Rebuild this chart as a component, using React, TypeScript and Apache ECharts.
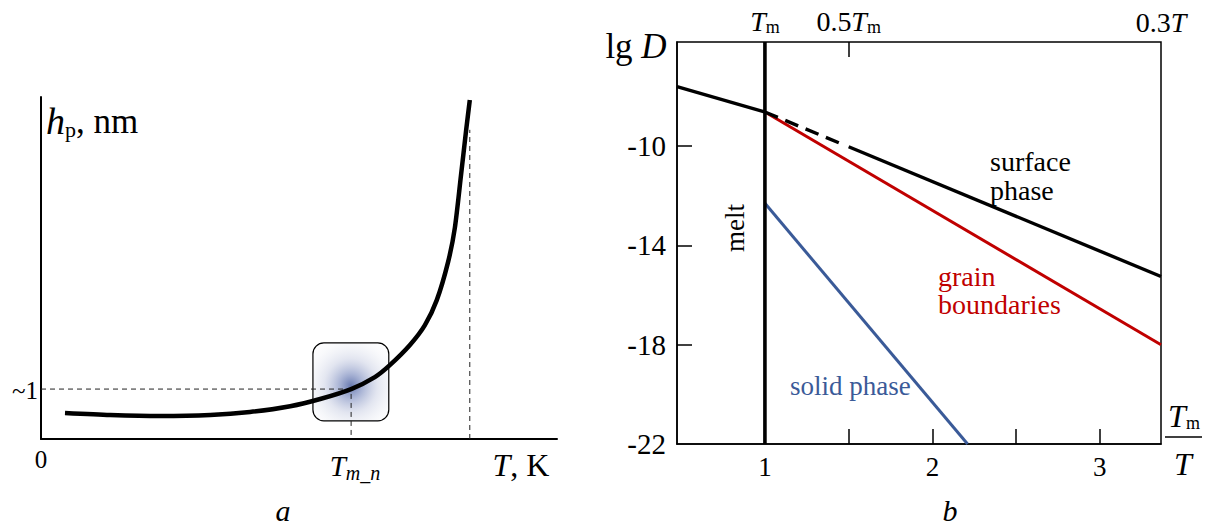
import React, { useEffect, useRef } from "react";
import * as echarts from "echarts";

// ---- Panel a: h_p vs T (arbitrary units, 0..100) ----
const leftT = [4.65, 13.4, 23.1, 32.8, 40.5, 48.3, 54.1, 60.1, 64.7, 67.6, 71.5, 74.4, 76.7, 78.9, 80.2, 81.4, 82.4, 83.1];
const leftH = [7.6, 7.0, 6.7, 7.0, 7.9, 9.6, 11.7, 14.6, 18.1, 21.6, 27.5, 33.3, 40.6, 51.8, 61.7, 77.2, 90.4, 99.1];
const tmnX = 60.1;
const tmnH = 14.6;
const tLimX = 83.1;
const tLimH = 90.4;
const boxArea = [52.7, 5.3, 67.4, 28.1]; // x0, y0, x1, y1

// ---- Panel b: lg D vs Tm/T ----
const xTicksB = [1.5, 2, 2.5, 3];
const xLabelsB = [1, 2, 3];
const yTicksB = [-10, -14, -18];
const yLabelsB = [-10, -14, -18, -22];
const topLabelValues = [1, 1.5, 3.365];
const liquidX = [0.475, 1];
const liquidY = [-7.6, -8.62];
const surfDashX = [1, 1.47];
const surfDashY = [-8.62, -9.94];
const surfX = [1.5, 3.365];
const surfY = [-10.02, -15.25];
const grainX = [1, 3.365];
const grainY = [-8.62, -18.0];
const solidX = [1, 2.21];
const solidY = [-12.3, -22];
const meltX = [1, 1];
const meltY = [-22, -5.8];

const zip = (a: number[], b: number[]) => a.map((v, i) => [v, b[i]]);
const FONT = "Liberation Serif";
const RED = "#c00000";
const BLUE = "#3a5a98";

const sub = { fontFamily: FONT, fontSize: 18, color: "#000", padding: [12, 0, 0, 0] };
const ital = { fontFamily: FONT, fontSize: 28, fontStyle: "italic", color: "#000" };
const norm = { fontFamily: FONT, fontSize: 28, color: "#000" };

export default function App() {
  const ref = useRef<HTMLDivElement>(null);
  useEffect(() => {
    const chart = echarts.init(ref.current!, null, { renderer: "svg" });
    const lineSeries = (data: number[][], color: string, width: number, extra: any = {}) => ({
      type: "line",
      xAxisIndex: 1,
      yAxisIndex: 1,
      data,
      symbol: "none",
      silent: true,
      lineStyle: { color, width, cap: "butt", ...extra },
    });
    const option: any = {
      animation: false,
      backgroundColor: "#fff",
      grid: [
        { left: 41, top: 97, width: 516, height: 342, show: false },
        { left: 677, top: 42, width: 484, height: 402, show: true, borderColor: "#000", borderWidth: 1.5, backgroundColor: "transparent" },
      ],
      xAxis: [
        {
          gridIndex: 0, type: "value", min: 0, max: 100,
          axisLine: { show: true, onZero: false, lineStyle: { color: "#000", width: 2 } },
          axisTick: { show: false }, axisLabel: { show: false }, splitLine: { show: false },
        },
        {
          gridIndex: 1, type: "value", min: 0.475, max: 3.365, position: "bottom",
          axisLine: { show: true, onZero: false, lineStyle: { color: "#000", width: 1.5 } },
          axisTick: { show: true, inside: true, length: 15, customValues: xTicksB, lineStyle: { color: "#000", width: 1.5 } },
          axisLabel: { show: true, customValues: xLabelsB, fontFamily: FONT, fontSize: 27, color: "#000", margin: 9 },
          splitLine: { show: false },
        },
        {
          gridIndex: 1, type: "value", min: 0.475, max: 3.365, position: "top",
          axisLine: { show: false },
          axisTick: { show: true, inside: true, length: 15, customValues: [1.5], lineStyle: { color: "#000", width: 1.5 } },
          axisLabel: {
            show: true, customValues: topLabelValues, margin: 6,
            formatter: (v: number) => (v === 1 ? "{i|T}{s|m}" : v === 1.5 ? "{n|0.5}{i|T}{s|m}" : "{n|0.3}{i|T}"),
            rich: { i: ital, s: sub, n: norm },
          },
          splitLine: { show: false },
        },
      ],
      yAxis: [
        {
          gridIndex: 0, type: "value", min: 0, max: 100,
          axisLine: { show: true, onZero: false, lineStyle: { color: "#000", width: 2 } },
          axisTick: { show: false }, axisLabel: { show: false }, splitLine: { show: false },
        },
        {
          gridIndex: 1, type: "value", min: -22, max: -5.8,
          axisLine: { show: true, onZero: false, lineStyle: { color: "#000", width: 1.5 } },
          axisTick: { show: true, inside: true, length: 15, customValues: yTicksB, lineStyle: { color: "#000", width: 1.5 } },
          axisLabel: { show: true, customValues: yLabelsB, fontFamily: FONT, fontSize: 29, color: "#000", margin: 11 },
          splitLine: { show: false },
        },
      ],
      series: [
        {
          type: "custom",
          xAxisIndex: 0,
          yAxisIndex: 0,
          silent: true,
          z: 1,
          data: [boxArea],
          renderItem: (params: any, api: any) => {
            const p1 = api.coord([api.value(0), api.value(3)]);
            const p2 = api.coord([api.value(2), api.value(1)]);
            return {
              type: "rect",
              shape: { x: p1[0], y: p1[1], width: p2[0] - p1[0], height: p2[1] - p1[1], r: 11 },
              style: {
                fill: new echarts.graphic.RadialGradient(0.5, 0.55, 0.7, [
                  { offset: 0, color: "rgba(88,108,168,0.9)" },
                  { offset: 0.22, color: "rgba(118,135,188,0.62)" },
                  { offset: 0.5, color: "rgba(180,188,216,0.38)" },
                  { offset: 0.8, color: "rgba(225,228,238,0.2)" },
                  { offset: 1, color: "rgba(245,245,250,0.1)" },
                ]),
                stroke: "#000",
                lineWidth: 1.2,
              },
            };
          },
        },
        {
          type: "line", xAxisIndex: 0, yAxisIndex: 0, symbol: "none", silent: true, z: 2,
          data: [[0, tmnH], [tmnX, tmnH], [tmnX, 0]],
          lineStyle: { color: "#222", width: 1, type: [5, 4] },
        },
        {
          type: "line", xAxisIndex: 0, yAxisIndex: 0, symbol: "none", silent: true, z: 2,
          data: [[tLimX, 0], [tLimX, tLimH]],
          lineStyle: { color: "#222", width: 1, type: [5, 4] },
        },
        {
          type: "line", xAxisIndex: 0, yAxisIndex: 0, symbol: "none", silent: true, z: 3,
          smooth: 0.25,
          data: zip(leftT, leftH),
          lineStyle: { color: "#000", width: 4.5, join: "round" },
        },
        lineSeries(zip(grainX, grainY), RED, 3),
        lineSeries(zip(solidX, solidY), BLUE, 3),
        lineSeries(zip(liquidX, liquidY), "#000", 3.4),
        lineSeries(zip(surfDashX, surfDashY), "#000", 3.4, { type: [14, 8] }),
        lineSeries(zip(surfX, surfY), "#000", 3.4),
        lineSeries(zip(meltX, meltY), "#000", 3.6),
      ],
      graphic: [
        // panel a texts
        {
          type: "text", x: 46, y: 121,
          style: {
            text: "{i|h}{s|p}{n|, nm}", textVerticalAlign: "middle",
            rich: {
              i: { fontFamily: FONT, fontSize: 38, fontStyle: "italic", fill: "#000" },
              s: { fontFamily: FONT, fontSize: 22, fill: "#000", padding: [16, 0, 0, 0] },
              n: { fontFamily: FONT, fontSize: 35, fill: "#000" },
            },
          },
        },
        { type: "text", x: 25, y: 390, style: { text: "~1", font: `25px "${FONT}"`, fill: "#000", textAlign: "center", textVerticalAlign: "middle" } },
        { type: "text", x: 41, y: 459, style: { text: "0", font: `25px "${FONT}"`, fill: "#000", textAlign: "center", textVerticalAlign: "middle" } },
        {
          type: "text", x: 355, y: 466,
          style: {
            text: "{i|T}{s|m_n}", textAlign: "center", textVerticalAlign: "middle",
            rich: {
              i: { fontFamily: FONT, fontSize: 29, fontStyle: "italic", fill: "#000" },
              s: { fontFamily: FONT, fontSize: 20, fontStyle: "italic", fill: "#000", padding: [14, 0, 0, 0] },
            },
          },
        },
        {
          type: "text", x: 521, y: 465,
          style: {
            text: "{i|T}{n|, K}", textAlign: "center", textVerticalAlign: "middle",
            rich: {
              i: { fontFamily: FONT, fontSize: 32, fontStyle: "italic", fill: "#000" },
              n: { fontFamily: FONT, fontSize: 32, fill: "#000" },
            },
          },
        },
        { type: "text", x: 283, y: 510, style: { text: "a", font: `italic 30px "${FONT}"`, fill: "#000", textAlign: "center", textVerticalAlign: "middle" } },
        // panel b texts
        {
          type: "text", x: 636, y: 46,
          style: {
            text: "{n|lg }{i|D}", textAlign: "center", textVerticalAlign: "middle",
            rich: {
              i: { fontFamily: FONT, fontSize: 35, fontStyle: "italic", fill: "#000" },
              n: { fontFamily: FONT, fontSize: 35, fill: "#000" },
            },
          },
        },
        { type: "text", x: 990, y: 161, style: { text: "surface", font: `28px "${FONT}"`, fill: "#000", textVerticalAlign: "middle" } },
        { type: "text", x: 990, y: 190, style: { text: "phase", font: `28px "${FONT}"`, fill: "#000", textVerticalAlign: "middle" } },
        { type: "text", x: 938, y: 276, style: { text: "grain", font: `28px "${FONT}"`, fill: RED, textVerticalAlign: "middle" } },
        { type: "text", x: 938, y: 304, style: { text: "boundaries", font: `28px "${FONT}"`, fill: RED, textVerticalAlign: "middle" } },
        { type: "text", x: 790, y: 386, style: { text: "solid phase", font: `27px "${FONT}"`, fill: BLUE, textVerticalAlign: "middle" } },
        { type: "text", x: 735, y: 228, rotation: Math.PI / 2, style: { text: "melt", font: `27px "${FONT}"`, fill: "#000", textAlign: "center", textVerticalAlign: "middle" } },
        {
          type: "text", x: 1184, y: 416,
          style: {
            text: "{i|T}{s|m}", textAlign: "center", textVerticalAlign: "middle",
            rich: {
              i: { fontFamily: FONT, fontSize: 32, fontStyle: "italic", fill: "#000" },
              s: { fontFamily: FONT, fontSize: 18, fill: "#000", padding: [14, 0, 0, 0] },
            },
          },
        },
        { type: "line", shape: { x1: 1165, y1: 437, x2: 1202, y2: 437 }, style: { stroke: "#000", lineWidth: 1.5 } },
        { type: "text", x: 1183, y: 464, style: { text: "T", font: `italic 32px "${FONT}"`, fill: "#000", textAlign: "center", textVerticalAlign: "middle" } },
        { type: "text", x: 950, y: 510, style: { text: "b", font: `italic 30px "${FONT}"`, fill: "#000", textAlign: "center", textVerticalAlign: "middle" } },
      ],
    };
    chart.setOption(option);
    return () => chart.dispose();
  }, []);
  return <div ref={ref} style={{ position: "fixed", left: 0, top: 0, width: 1205, height: 530, background: "#fff" }} />;
}
